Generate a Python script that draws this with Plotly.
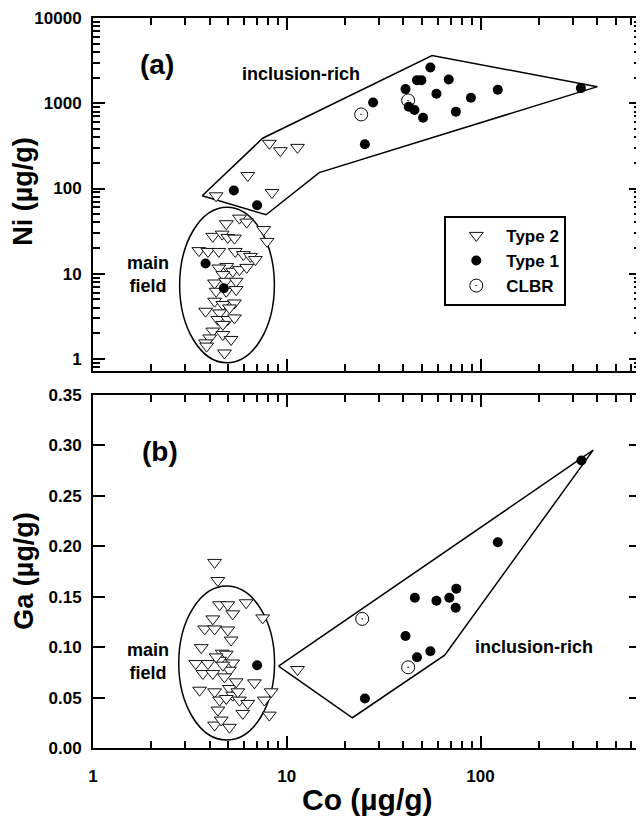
import plotly.graph_objects as go

# ---------------- data ----------------
# Panel (a): Co vs Ni
t2_co_a = [5.70, 6.21, 4.87, 7.60, 7.91, 4.15, 4.64, 4.96, 5.37, 3.52, 3.92, 4.46, 5.42, 5.97,
           6.49, 6.89, 4.90, 4.46, 5.26, 5.70, 6.21, 4.68, 4.24, 4.83, 5.48, 4.87, 5.48, 4.32,
           4.24, 4.68, 5.37, 5.06, 3.81, 4.50, 4.41, 4.96, 5.37, 4.68, 4.15, 4.68, 5.16, 4.00,
           3.81, 4.77, 3.86,
           4.32, 6.29, 8.39, 8.13, 9.26, 11.36]
t2_ni_a = [45.0, 40.4, 38.7, 33.0, 24.0, 27.5, 29.2, 26.7, 26.2, 18.7, 18.3, 18.3, 18.3, 16.8,
           16.0, 14.7, 12.2, 11.7, 10.7, 11.2, 11.9, 9.79, 7.80, 8.17, 8.17, 6.24, 6.53, 6.24,
           4.77, 4.36, 4.55, 3.98, 3.64, 3.48, 2.91, 2.91, 3.04, 2.55, 2.13, 1.94, 1.70, 1.77,
           1.55, 1.18, 1.42,
           82.2, 142, 89.8, 339, 278, 304]
t1_co_a = [55.1, 47.0, 49.5, 68.5, 41.0, 59.2, 89.2, 122.7, 329.5, 42.6, 45.6, 50.5, 74.6,
           27.9, 25.3, 5.33, 7.03, 3.81, 4.73]
t1_ni_a = [2624, 1868, 1868, 1898, 1466, 1291, 1159, 1438, 1506, 910, 832, 676, 795,
           1021, 330, 94.8, 63.8, 13.2, 6.77]
clbr_co_a = [24.2, 42.3]
clbr_ni_a = [740, 1079]

# Panel (b): Co vs Ga
t2_co_b = [4.24, 4.41, 4.50, 4.96, 6.17, 5.26, 7.51, 4.15, 3.77, 4.24, 4.96, 5.16, 3.62, 4.64,
           4.87, 3.39, 3.92, 4.50, 5.26, 3.69, 4.15, 5.06, 6.81, 3.55, 4.24, 5.06, 5.48, 8.30,
           7.66, 4.50, 5.26, 5.70, 4.41, 6.29, 5.93, 8.13, 4.24, 4.59, 5.06, 11.36, 4.77, 4.32,
           5.59, 4.87, 4.68]
t2_ga_b = [0.184, 0.166, 0.142, 0.142, 0.144, 0.133, 0.129, 0.128, 0.118, 0.118, 0.117, 0.107,
           0.0995, 0.094, 0.093, 0.0837, 0.0837, 0.087, 0.0843, 0.0738, 0.0738, 0.0771, 0.0646,
           0.0573, 0.0557, 0.059, 0.0656, 0.0557, 0.0475, 0.0475, 0.0524, 0.0475, 0.0376, 0.0442,
           0.0343, 0.0326, 0.0227, 0.0277, 0.0205, 0.0778, 0.0705, 0.0903, 0.0557, 0.0491, 0.0821]
t1_co_b = [331.7, 122.7, 45.8, 59.2, 69.0, 75.0, 74.4, 41.0, 47.0, 55.1, 25.3, 7.03]
t1_ga_b = [0.285, 0.204, 0.149, 0.146, 0.149, 0.158, 0.139, 0.111, 0.090, 0.096, 0.049, 0.082]
clbr_co_b = [24.5, 42.3]
clbr_ga_b = [0.128, 0.080]

# Field outlines (data coordinates)
incl_poly_co_a = [3.66, 7.51, 56.2, 401, 14.7, 7.82, 3.66]
incl_poly_ni_a = [82.2, 389, 3624, 1567, 154, 49.3, 82.2]
incl_poly_co_b = [9.07, 381, 65.3, 21.8, 9.07]
incl_poly_ga_b = [0.0811, 0.2953, 0.0920, 0.030, 0.0811]
main_ell_co_a = [2.80, 8.63]
main_ell_ni_a = [0.905, 60.4]
main_ell_co_b = [2.77, 8.65]
main_ell_ga_b = [0.0079, 0.1605]

# Ticks
co_tickvals = [1, 10, 100]
co_ticktext = ["1", "10", "100"]
ni_tickvals = [1, 10, 100, 1000, 10000]
ni_ticktext = ["1", "10", "100", "1000", "10000"]
ga_tickvals = [0.00, 0.05, 0.10, 0.15, 0.20, 0.25, 0.30, 0.35]
ga_ticktext = ["0.00", "0.05", "0.10", "0.15", "0.20", "0.25", "0.30", "0.35"]
co_minor = [m * d for d in (1, 10, 100) for m in range(2, 10)]
ni_minor = [0.8, 0.9] + [m * d for d in (1, 10, 100, 1000) for m in range(2, 10)]

# ---------------- figure ----------------
FONT = "Liberation Sans, Arial, sans-serif"
fig = go.Figure()

tri = dict(symbol="triangle-down", size=12, color="white", line=dict(color="#111", width=1))
dot = dict(symbol="circle", size=10, color="black", line=dict(width=0))
clb = dict(symbol="circle-open-dot", size=13, color="black", line=dict(color="black", width=1))

# outlines
fig.add_trace(go.Scatter(x=incl_poly_co_a, y=incl_poly_ni_a, mode="lines",
                         line=dict(color="black", width=1.5), showlegend=False,
                         xaxis="x", yaxis="y", hoverinfo="skip"))
fig.add_trace(go.Scatter(x=incl_poly_co_b, y=incl_poly_ga_b, mode="lines",
                         line=dict(color="black", width=1.5), showlegend=False,
                         xaxis="x2", yaxis="y2", hoverinfo="skip"))

# panel a
fig.add_trace(go.Scatter(x=t2_co_a, y=t2_ni_a, mode="markers", marker=tri, name="Type 2",
                         xaxis="x", yaxis="y"))
fig.add_trace(go.Scatter(x=t1_co_a, y=t1_ni_a, mode="markers", marker=dot, name="Type 1",
                         xaxis="x", yaxis="y"))
fig.add_trace(go.Scatter(x=clbr_co_a, y=clbr_ni_a, mode="markers", marker=clb, name="CLBR",
                         xaxis="x", yaxis="y"))
# panel b
fig.add_trace(go.Scatter(x=t2_co_b, y=t2_ga_b, mode="markers", marker=tri, name="Type 2",
                         showlegend=False, xaxis="x2", yaxis="y2"))
fig.add_trace(go.Scatter(x=t1_co_b, y=t1_ga_b, mode="markers", marker=dot, name="Type 1",
                         showlegend=False, xaxis="x2", yaxis="y2"))
fig.add_trace(go.Scatter(x=clbr_co_b, y=clbr_ga_b, mode="markers", marker=clb, name="CLBR",
                         showlegend=False, xaxis="x2", yaxis="y2"))

# ellipses
fig.add_shape(type="circle", xref="x", yref="y",
              x0=main_ell_co_a[0], x1=main_ell_co_a[1], y0=main_ell_ni_a[0], y1=main_ell_ni_a[1],
              line=dict(color="black", width=1.5), layer="below")
fig.add_shape(type="circle", xref="x2", yref="y2",
              x0=main_ell_co_b[0], x1=main_ell_co_b[1], y0=main_ell_ga_b[0], y1=main_ell_ga_b[1],
              line=dict(color="black", width=1.5), layer="below")

tickfont = dict(family=FONT, size=17, color="black", weight="bold")
common = dict(showline=True, linecolor="black", linewidth=2, mirror="allticks",
              ticks="inside", ticklen=12, tickwidth=1.5, tickcolor="black",
              showgrid=False, zeroline=False, tickfont=tickfont)
def minor_of(vals):
    return dict(ticks="inside", ticklen=7, tickwidth=1.5, tickcolor="black",
                tickmode="array", tickvals=vals, showgrid=False)
xlog = dict(type="log", range=[0, 2.828], tickmode="array", tickvals=co_tickvals,
            ticktext=co_ticktext, minor=minor_of(co_minor))

# The page is drawn with an 8 px body margin, so the figure is 8 px smaller
fig.update_layout(
    width=636, height=814,
    margin=dict(l=85, r=1, t=8, b=74),
    paper_bgcolor="white", plot_bgcolor="white",
    font=dict(family=FONT, color="black"),
    xaxis=dict(**common, **xlog, anchor="y", domain=[0, 1], showticklabels=False),
    yaxis=dict(**common, type="log", range=[-0.14, 4], domain=[0.5164, 1], anchor="x",
               tickmode="array", tickvals=ni_tickvals, ticktext=ni_ticktext,
               ticklabelstandoff=6, minor=minor_of(ni_minor)),
    xaxis2=dict(**common, **xlog, anchor="y2", domain=[0, 1], ticklabelstandoff=12),
    yaxis2=dict(**common, range=[0, 0.35], domain=[0, 0.4836], anchor="x2",
                tickvals=ga_tickvals, ticktext=ga_ticktext, ticklabelstandoff=6),
    legend=dict(x=0.641, y=0.7290, xanchor="left", yanchor="top",
                bgcolor="white", bordercolor="black", borderwidth=2,
                font=dict(family=FONT, size=17, color="black", weight="bold"),
                itemwidth=50, tracegroupgap=0),
    showlegend=True,
)

def ann(text, x, y, size, angle=0):
    fig.add_annotation(text=text, x=x, y=y, xref="paper", yref="paper", showarrow=False,
                       xanchor="center", yanchor="middle", textangle=angle,
                       font=dict(family=FONT, size=size, color="black", weight="bold"))

ann("Ni (µg/g)", -0.1291, 0.7623, 27, -90)
ann("Ga (µg/g)", -0.1255, 0.2432, 27, -90)
ann("Co (µg/g)", 0.5018, -0.0700, 30)
ann("(a)", 0.1164, 0.9358, 28)
ann("(b)", 0.1218, 0.4061, 28)
ann("inclusion-rich", 0.3795, 0.9239, 18)
ann("inclusion-rich", 0.8055, 0.1384, 18)
ann("main<br>field", 0.1, 0.6489, 18)
ann("main<br>field", 0.1005, 0.1189, 18)

fig.write_html("out.html")
